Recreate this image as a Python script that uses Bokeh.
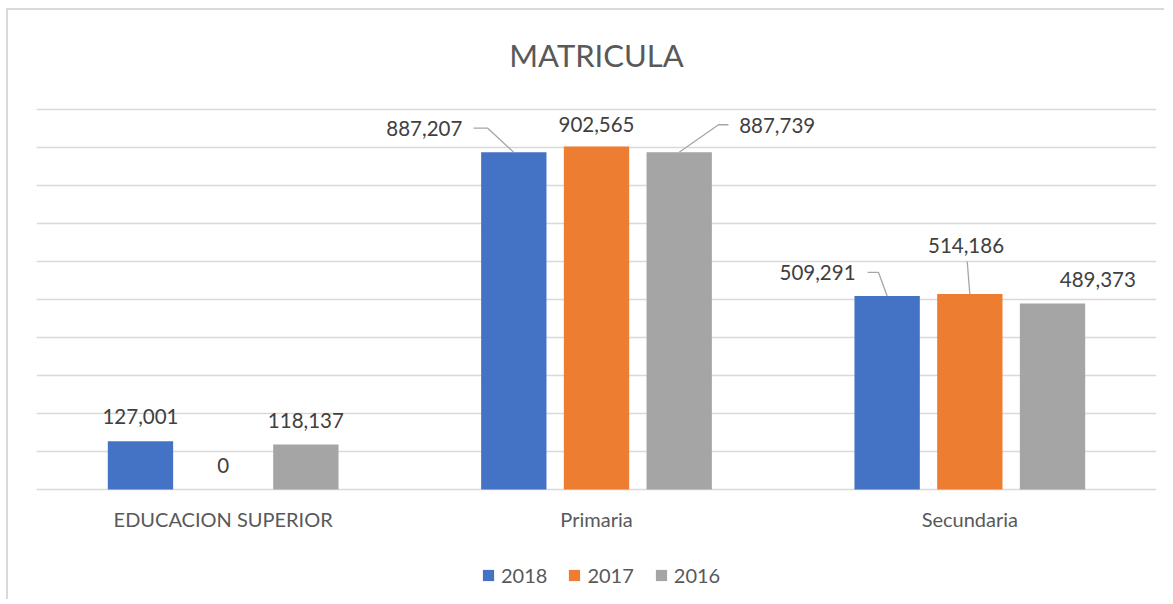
import numpy as np
from bokeh.plotting import figure
from bokeh.models import ColumnDataSource, FixedTicker, Legend, LegendItem, Range1d
from bokeh.core.properties import value
from bokeh.embed import file_html
from bokeh.resources import INLINE

# ---------------- data ----------------
categories = ["EDUCACION SUPERIOR", "Primaria", "Secundaria"]
years = ["2018", "2017", "2016"]
v2018 = [127001, 887207, 509291]
v2017 = [0, 902565, 514186]
v2016 = [118137, 887739, 489373]
y_ticks = [0, 100000, 200000, 300000, 400000, 500000, 600000, 700000, 800000, 900000, 1000000]

# ---------------- style / layout ----------------
series = [v2018, v2017, v2016]
colors = ["#4472C4", "#ED7D31", "#A5A5A5"]
FONT = "Lato"
W, H = 1164, 598
FL, FT, FW, FH = 36, 108, 1120, 380
PAD = 2            # px of headroom so the top gridline is not clipped
BOT = H - FT - FH  # px of frame below the zero line (axis labels + legend)
bar_offsets = [-0.2215, 0.0, 0.2215]
bar_width = 0.175
# data label offsets in screen px (dx, dy) relative to bar top centre
label_off = [
    [(0, -25), (-89.5, -23.5), (-69.6, -23.5)],
    [(0, -24), (0, -22.5), (-3.8, -49)],
    [(0, -24.4), (98, -26.2), (45.3, -24.5)],
]
# leader lines: (series, category, [(dx, dy) px points])
leaders = [
    (0, 1, [(-40.3, -24.3), (-26.3, -24.3), (0, 0)]),
    (2, 1, [(0, 0), (39.3, -27.4), (49.3, -27.4)]),
    (0, 2, [(-19.6, -23.5), (-8.6, -23.5), (0, 0)]),
    (1, 2, [(-2.6, -32.6), (0, 0)]),
]

ymax = y_ticks[-1]
ncat = len(categories)
px_x = ncat / FW
px_y = ymax / FH

p = figure(frame_width=FW, frame_height=FH + PAD + BOT, x_range=Range1d(0, ncat),
           y_range=Range1d(-BOT * px_y, ymax + PAD * px_y),
           output_backend="svg", toolbar_location=None,
           min_border_left=FL, min_border_right=W - FL - FW,
           min_border_top=FT - PAD, min_border_bottom=0)
p.border_fill_color = None
p.background_fill_color = None
# chart-area border (left and top edges, as in the reference)
p.styles = {
    "background": ("linear-gradient(#d9d9d9, #d9d9d9) 6px 8px / 2px calc(100% - 8px) no-repeat, "
                   "linear-gradient(#d9d9d9, #d9d9d9) 6px 8px / calc(100% - 6px) 2px no-repeat, #ffffff"),
}

p.title.text = "MATRICULA"
p.title.align = "center"
p.title.text_font = FONT
p.title.text_font_size = "31px"
p.title.text_font_style = "normal"
p.title.text_color = "#595959"
p.title.standoff = 67

centers = np.arange(ncat) + 0.5
renderers = []
for s, vals in enumerate(series):
    src = ColumnDataSource(dict(x=centers + bar_offsets[s], top=vals))
    r = p.vbar(x="x", top="top", bottom=0, width=bar_width, source=src,
               fill_color=colors[s], line_color=None)
    renderers.append(r)

# data labels
for s, vals in enumerate(series):
    xs = centers + bar_offsets[s]
    src = ColumnDataSource(dict(
        x=xs, y=vals,
        dx=[o[0] for o in label_off[s]], dy=[o[1] for o in label_off[s]],
        t=[f"{v:,}" for v in vals]))
    p.text(x="x", y="y", text="t", x_offset="dx", y_offset="dy", source=src,
           text_font=value(FONT), text_font_size="20.5px", text_color="#404040",
           text_align="center", text_baseline="middle")

# leader lines
for s, c, pts in leaders:
    bx = centers[c] + bar_offsets[s]
    by = series[s][c]
    xs = [bx + dx * px_x for dx, dy in pts]
    ys = [by - dy * px_y for dx, dy in pts]
    p.line(xs, ys, line_color="#a6a6a6", line_width=1.3)

# axes / grid
p.xaxis.fixed_location = 0
p.xaxis.ticker = FixedTicker(ticks=list(centers))
p.xaxis.major_label_overrides = {float(c): n for c, n in zip(centers, categories)}
p.xaxis.axis_line_color = None
p.xaxis.major_tick_line_color = None
p.xaxis.minor_tick_line_color = None
p.xaxis.major_label_text_font = FONT
p.xaxis.major_label_text_font_size = "20px"
p.xaxis.major_label_text_color = "#595959"
p.xaxis.major_label_standoff = 11
p.yaxis.visible = False
p.xgrid.visible = False
p.ygrid.ticker = FixedTicker(ticks=y_ticks)
p.ygrid.grid_line_color = "#d9d9d9"
p.ygrid.grid_line_width = 1.5
p.outline_line_color = None

legend = Legend(items=[LegendItem(label=y, renderers=[r]) for y, r in zip(years, renderers)],
                orientation="horizontal", location=(445, 12))
legend.glyph_width = 14
legend.glyph_height = 14
legend.label_height = 14
legend.label_standoff = 6
legend.spacing = 20
legend.padding = 0
legend.margin = 0
legend.border_line_color = None
legend.background_fill_alpha = 0
legend.label_text_font = FONT
legend.label_text_font_size = "20px"
legend.label_text_color = "#595959"
p.add_layout(legend, "center")

open("out.html", "w").write(file_html(p, INLINE))
